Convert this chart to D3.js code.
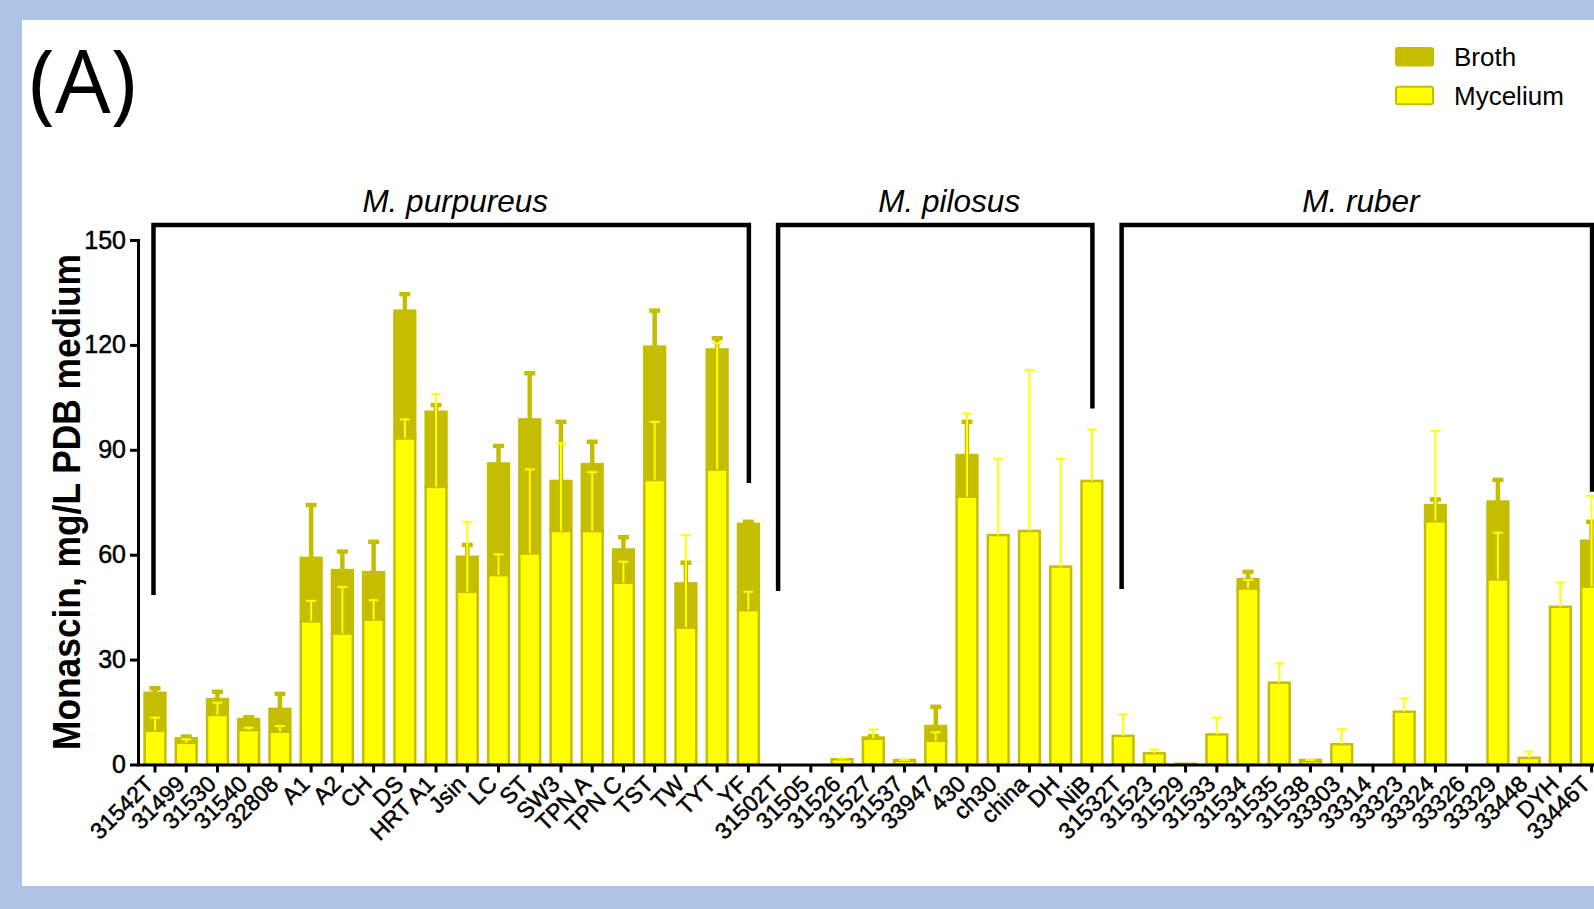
<!DOCTYPE html>
<html>
<head>
<meta charset="utf-8">
<script src="https://cdn.jsdelivr.net/npm/d3@7"></script>
<style>
  html, body { margin: 0; padding: 0; background: #AEC2E6; overflow: hidden; }
  svg { display: block; }
</style>
</head>
<body>
<svg id="chart" width="1594" height="909"></svg>
<script>
// Monascin production per strain, stacked as mycelium + broth (mg/L PDB medium)
const categories = [
  "31542T","31499","31530","31540","32808","A1","A2","CH","DS","HRT A1",
  "Jsin","LC","ST","SW3","TPN A","TPN C","TST","TW","TYT","YF",
  "31502T","31505","31526","31527","31537","33947","430","ch30","china","DH","NiB",
  "31532T","31523","31529","31533","31534","31535","31538","33303","33314",
  "33323","33324","33326","33329","33448","DYH","33446T"
];
const mycelium = [
  9.7, 6.2, 14.2, 9.9, 9.4, 41.0, 37.5, 41.5, 93.3, 79.4,
  49.4, 54.2, 60.4, 66.8, 66.8, 52.0, 81.4, 39.2, 84.4, 44.2,
  0, 0, 1.5, 7.4, 1.1, 6.8, 76.6, 65.6, 66.8, 56.6, 81.1,
  8.2, 3.2, 0.2, 8.6, 50.4, 23.4, 1.0, 5.8, 0,
  15.1, 69.6, 0, 53.0, 1.9, 45.1, 50.9
];
const myceliumSD = [
  3.7, 1.0, 3.5, 0.6, 1.6, 5.8, 13.3, 5.5, 5.4, 26.5,
  20.0, 5.9, 24.0, 25.1, 16.8, 6.0, 16.6, 26.4, 36.1, 5.2,
  0, 0, 0.3, 2.6, 0.2, 2.4, 23.8, 21.8, 46.0, 30.8, 14.7,
  6.1, 1.1, 0, 4.8, 2.4, 5.5, 0.3, 4.3, 0,
  3.8, 25.8, 0, 13.3, 1.8, 7.0, 25.9
];
const broth = [
  10.8, 1.3, 4.5, 3.1, 6.5, 18.1, 18.1, 13.5, 36.5, 21.5,
  10.0, 31.9, 38.3, 14.3, 19.1, 9.5, 38.1, 12.6, 34.3, 24.6,
  0, 0, 0, 0.3, 0.2, 4.2, 11.9, 0, 0, 0, 0,
  0, 0, 0, 0, 2.6, 0, 0.3, 0, 0,
  0, 4.6, 0, 22.2, 0, 0, 13.1
];
const brothSD = [
  1.3, 0.5, 2.1, 0.5, 4.3, 15.1, 5.3, 8.7, 4.7, 1.9,
  3.4, 5.0, 13.2, 16.9, 6.4, 3.5, 10.3, 5.9, 3.2, 0.6,
  0, 0, 0, 0.4, 0, 5.5, 9.5, 0, 0, 0, 0,
  0, 0, 0, 0, 2.1, 0, 0, 0, 0,
  0, 1.6, 0, 6.2, 0, 0, 5.4
];
const yTicks = [0, 30, 60, 90, 120, 150];

// Species groups shown as brackets above the bars
const speciesNames = ["M. purpureus", "M. pilosus", "M. ruber"];
const speciesFirst = ["31542T", "31502T", "31532T"];
const speciesLast = ["YF", "NiB", "33446T"];

const seriesNames = ["Broth", "Mycelium"];

const OLIVE = "#C5BE00";
const YELLOW = "#FFFF00";
const FONT = "'Liberation Sans', Arial, Helvetica, sans-serif";

const svg = d3.select("#chart");

// page frame
svg.append("rect").attr("x", 0).attr("y", 0).attr("width", 1594).attr("height", 909).attr("fill", "#AEC2E6");
svg.append("rect").attr("x", 22).attr("y", 20).attr("width", 1580).attr("height", 866).attr("fill", "#FFFFFF");

// scales
const step = 31.23;
const firstCenter = 155;
const x = d3.scaleBand()
  .domain(categories)
  .range([firstCenter - step / 2, firstCenter - step / 2 + categories.length * step])
  .paddingInner(0.335)
  .paddingOuter(0.335 / 2);
const y = d3.scaleLinear().domain([0, 150]).range([764.5, 240]);
const cx = c => x(c) + x.bandwidth() / 2;

// bars
const rows = categories.map((c, i) => ({
  c, myc: mycelium[i], mycSD: myceliumSD[i], broth: broth[i], brothSD: brothSD[i]
}));

const gBars = svg.append("g");
gBars.selectAll("rect.myc")
  .data(rows.filter(d => d.myc > 0))
  .join("rect")
  .attr("class", "myc")
  .attr("x", d => x(d.c))
  .attr("width", x.bandwidth())
  .attr("y", d => y(d.myc))
  .attr("height", d => y(0) - y(d.myc))
  .attr("fill", YELLOW)
  .attr("stroke", OLIVE)
  .attr("stroke-width", 2.5);

gBars.selectAll("rect.broth")
  .data(rows.filter(d => d.broth > 0))
  .join("rect")
  .attr("class", "broth")
  .attr("x", d => x(d.c))
  .attr("width", x.bandwidth())
  .attr("y", d => y(d.myc + d.broth))
  .attr("height", d => y(d.myc) - y(d.myc + d.broth))
  .attr("fill", OLIVE)
  .attr("stroke", OLIVE)
  .attr("stroke-width", 2.5);

// broth error bars (upper only)
const gErrB = svg.append("g").attr("stroke", OLIVE);
rows.filter(d => d.broth > 0 && d.brothSD > 0).forEach(d => {
  const top = d.myc + d.broth;
  gErrB.append("line")
    .attr("x1", cx(d.c)).attr("x2", cx(d.c))
    .attr("y1", y(top)).attr("y2", y(top + d.brothSD))
    .attr("stroke-width", 4.5);
  gErrB.append("line")
    .attr("x1", cx(d.c) - 5.5).attr("x2", cx(d.c) + 5.5)
    .attr("y1", y(top + d.brothSD)).attr("y2", y(top + d.brothSD))
    .attr("stroke-width", 4.5);
});

// mycelium error bars (upper only)
const gErrM = svg.append("g").attr("stroke", YELLOW);
rows.filter(d => d.myc > 0 && d.mycSD > 0).forEach(d => {
  gErrM.append("line")
    .attr("x1", cx(d.c)).attr("x2", cx(d.c))
    .attr("y1", y(d.myc)).attr("y2", y(d.myc + d.mycSD))
    .attr("stroke-width", 2);
  gErrM.append("line")
    .attr("x1", cx(d.c) - 5).attr("x2", cx(d.c) + 5)
    .attr("y1", y(d.myc + d.mycSD)).attr("y2", y(d.myc + d.mycSD))
    .attr("stroke-width", 2);
});

// axes
const yAxis = svg.append("g")
  .attr("transform", "translate(138,0)")
  .call(d3.axisLeft(y).tickValues(yTicks).tickSize(8).tickPadding(4).tickSizeOuter(0));
yAxis.select(".domain").attr("stroke", "#000").attr("stroke-width", 3).attr("stroke-linecap", "square");
yAxis.selectAll(".tick line").attr("stroke", "#000").attr("stroke-width", 3);
yAxis.selectAll(".tick text")
  .attr("fill", "#000")
  .attr("stroke", "#000")
  .attr("stroke-width", 0.5)
  .style("font-family", FONT)
  .style("font-size", "25px");

const xAxis = svg.append("g")
  .attr("transform", `translate(0,${y(0)})`)
  .call(d3.axisBottom(x).tickSize(8).tickSizeOuter(0));
xAxis.select(".domain").attr("stroke", "#000").attr("stroke-width", 3);
xAxis.selectAll(".tick line").attr("stroke", "#000").attr("stroke-width", 3);
xAxis.selectAll(".tick text")
  .attr("fill", "#000")
  .attr("stroke", "#000")
  .attr("stroke-width", 0.5)
  .attr("x", 0).attr("y", 0).attr("dy", 0)
  .attr("text-anchor", "end")
  .attr("transform", "translate(0,21) rotate(-45)")
  .style("font-family", FONT)
  .style("font-size", "23px");

// y axis title
svg.append("text")
  .attr("transform", "translate(80,502) rotate(-90)")
  .attr("text-anchor", "middle")
  .attr("textLength", 496)
  .attr("lengthAdjust", "spacingAndGlyphs")
  .style("font-family", FONT)
  .style("font-weight", "bold")
  .style("font-size", "38px")
  .attr("fill", "#000")
  .text("Monascin, mg/L PDB medium");

// species brackets
const bracketTop = 154.3;
const bracketEnds = [[48.5, 80.5], [49.6, 101.8], [50.2, 78.0]];
const gBr = svg.append("g");
speciesNames.forEach((name, k) => {
  const x0 = cx(speciesFirst[k]) - 1.5, x1 = cx(speciesLast[k]) + 0.5;
  gBr.append("path")
    .attr("d", `M${x0},${y(bracketEnds[k][0])}V${y(bracketTop)}H${x1}V${y(bracketEnds[k][1])}`)
    .attr("fill", "none")
    .attr("stroke", "#000")
    .attr("stroke-width", 4.5)
    .attr("stroke-linejoin", "miter");
  gBr.append("text")
    .attr("x", (x0 + x1) / 2 + (k === 1 ? 14 : 4))
    .attr("y", 211.5)
    .attr("text-anchor", "middle")
    .style("font-family", FONT)
    .style("font-style", "italic")
    .style("font-size", "31.5px")
    .attr("fill", "#000")
    .text(name);
});

// legend
const legend = svg.append("g").attr("transform", "translate(1395,47)");
seriesNames.forEach((name, k) => {
  legend.append("rect")
    .attr("x", 1).attr("y", k * 38.7 + 1)
    .attr("width", 37).attr("height", 17.5)
    .attr("rx", 2)
    .attr("fill", k === 0 ? OLIVE : YELLOW)
    .attr("stroke", OLIVE)
    .attr("stroke-width", 2);
  legend.append("text")
    .attr("x", 59).attr("y", k * 38.7 + 19)
    .style("font-family", FONT)
    .style("font-size", "26px")
    .attr("fill", "#000")
    .text(name);
});

// panel label
svg.append("text")
  .attr("x", 29).attr("y", 113)
  .style("font-family", "'Open Sans', 'Noto Sans', sans-serif")
  .style("font-size", "88px")
  .attr("fill", "#000")
  .text("(A)");
</script>
</body>
</html>
